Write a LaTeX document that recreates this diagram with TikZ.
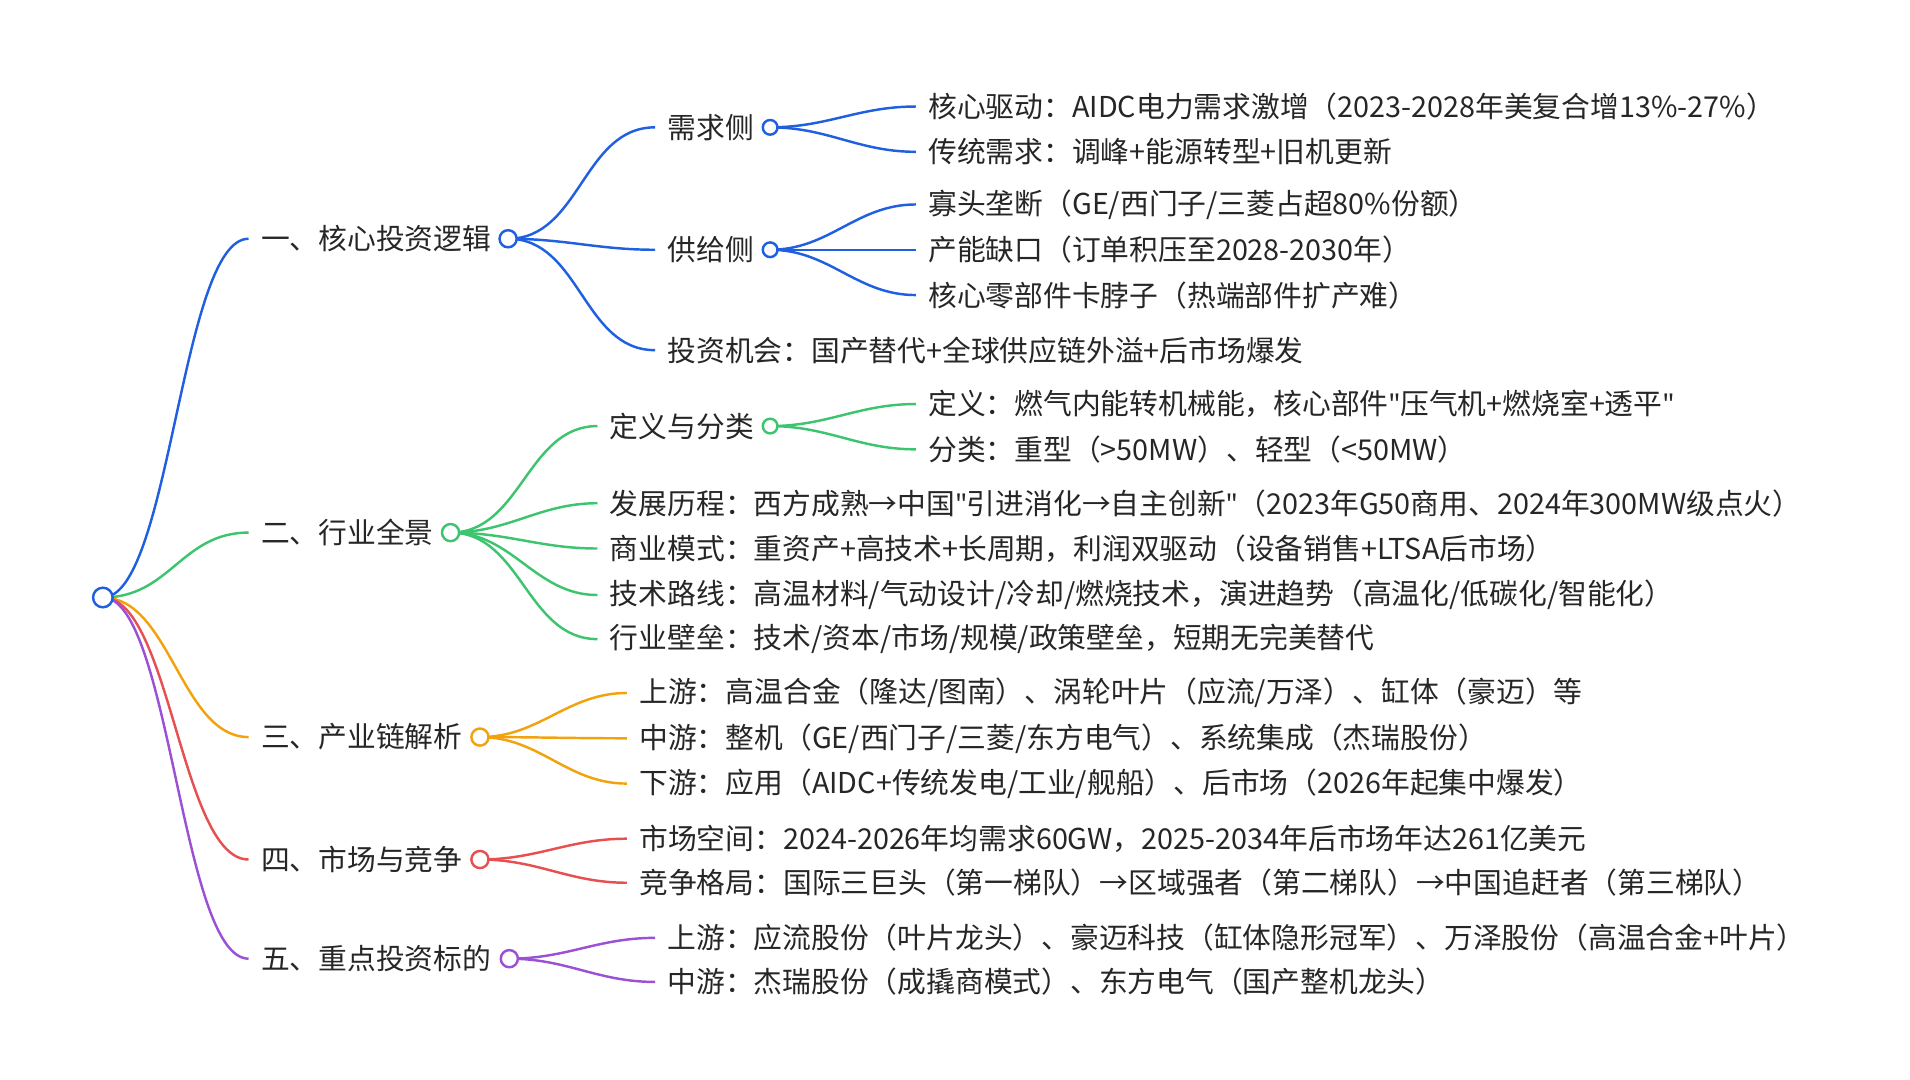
\documentclass[tikz,border=0pt]{standalone}
\usepackage{fontspec}
\setmainfont{Noto Sans CJK SC}
\newfontfamily\qf{Noto Sans}
\newcommand{\qq}{{\qf\char"0022}}
\begin{document}
\begin{tikzpicture}[x=1pt,y=-1pt,
  lbl/.style={anchor=west,inner xsep=10pt,inner ysep=0pt,font=\fontsize{23.5}{27}\selectfont,text=black!85},
  dot/.style={circle,draw=#1,fill=white,line width=2pt,inner sep=0pt,minimum size=12pt},
  ln/.style={draw=#1,line width=2pt},
  cA/.style={ln=bA},cB/.style={ln=bB},cC/.style={ln=bC},cD/.style={ln=bD},cE/.style={ln=bE},
  rt/.style={to path={.. controls +(55,0) and +(-55,0) .. (\tikztotarget)}}]
\definecolor{bA}{HTML}{1F5FE0}
\definecolor{bB}{HTML}{3CC56E}
\definecolor{bC}{HTML}{F2A20C}
\definecolor{bD}{HTML}{E84F50}
\definecolor{bE}{HTML}{9B51D6}
\useasboundingbox (0,0) rectangle (1560,882);
% level 1 labels
\node[lbl] (t1) at (203,195) {一、核心投资逻辑};
\node[lbl] (t2) at (203,435) {二、行业全景};
\node[lbl] (t3) at (203,602) {三、产业链解析};
\node[lbl] (t4) at (203,702) {四、市场与竞争};
\node[lbl] (t5) at (203,783) {五、重点投资标的};
% level 2
\node[lbl] (t11) at (535,104) {需求侧};
\node[lbl] (t12) at (535,204) {供给侧};
\node[lbl] (t13) at (535,286) {投资机会：国产替代+全球供应链外溢+后市场爆发};
\node[lbl] (t111) at (748,87) {核心驱动：AIDC电力需求激增（2023-2028年美复合增13\%-27\%）};
\node[lbl] (t112) at (748,124) {传统需求：调峰+能源转型+旧机更新};
\node[lbl] (t121) at (748,167) {寡头垄断（GE/西门子/三菱占超80\%份额）};
\node[lbl] (t122) at (748,204) {产能缺口（订单积压至2028-2030年）};
\node[lbl] (t123) at (748,241) {核心零部件卡脖子（热端部件扩产难）};
\node[lbl] (t21) at (488,348) {定义与分类};
\node[lbl] (t211) at (748,330) {定义：燃气内能转机械能，核心部件\qq 压气机+燃烧室+透平\qq};
\node[lbl] (t212) at (748,367) {分类：重型（>50MW）、轻型（<50MW）};
\node[lbl] (t22) at (488,411) {发展历程：西方成熟→中国\qq 引进消化→自主创新\qq（2023年G50商用、2024年300MW级点火）};
\node[lbl] (t23) at (488,448) {商业模式：重资产+高技术+长周期，利润双驱动（设备销售+LTSA后市场）};
\node[lbl] (t24) at (488,486) {技术路线：高温材料/气动设计/冷却/燃烧技术，演进趋势（高温化/低碳化/智能化）};
\node[lbl] (t25) at (488,522) {行业壁垒：技术/资本/市场/规模/政策壁垒，短期无完美替代};
\node[lbl] (t31) at (512,566) {上游：高温合金（隆达/图南）、涡轮叶片（应流/万泽）、缸体（豪迈）等};
\node[lbl] (t32) at (512,603) {中游：整机（GE/西门子/三菱/东方电气）、系统集成（杰瑞股份）};
\node[lbl] (t33) at (512,640) {下游：应用（AIDC+传统发电/工业/舰船）、后市场（2026年起集中爆发）};
\node[lbl] (t41) at (512,685) {市场空间：2024-2026年均需求60GW，2025-2034年后市场年达261亿美元};
\node[lbl] (t42) at (512,721) {竞争格局：国际三巨头（第一梯队）→区域强者（第二梯队）→中国追赶者（第三梯队）};
\node[lbl] (t51) at (535,766) {上游：应流股份（叶片龙头）、豪迈科技（缸体隐形冠军）、万泽股份（高温合金+叶片）};
\node[lbl] (t52) at (535,802) {中游：杰瑞股份（成撬商模式）、东方电气（国产整机龙头）};
% connectors
\draw[cA] (84,488) to[rt] (t1.west);
\draw[cB] (84,488) to[rt] (t2.west);
\draw[cC] (84,488) to[rt] (t3.west);
\draw[cD] (84,488) to[rt] (t4.west);
\draw[cE] (84,488) to[rt] (t5.west);
\foreach \t in {t11,t12,t13} \draw[cA] (415,195) to[out=0,in=180] (\t.west);
\foreach \t in {t111,t112} \draw[cA] (629,104) to[out=0,in=180] (\t.west);
\foreach \t in {t121,t122,t123} \draw[cA] (629,204) to[out=0,in=180] (\t.west);
\foreach \t in {t21,t22,t23,t24,t25} \draw[cB] (368,435) to[out=0,in=180] (\t.west);
\foreach \t in {t211,t212} \draw[cB] (629,348) to[out=0,in=180] (\t.west);
\foreach \t in {t31,t32,t33} \draw[cC] (392,602) to[out=0,in=180] (\t.west);
\foreach \t in {t41,t42} \draw[cD] (392,702) to[out=0,in=180] (\t.west);
\foreach \t in {t51,t52} \draw[cE] (416,783) to[out=0,in=180] (\t.west);
% dots
\node[dot=bA,minimum size=16pt] (r) at (84,488) {};
\node[dot=bA,minimum size=14pt] (c1) at (415,195) {};
\node[dot=bB,minimum size=14pt] (c2) at (368,435) {};
\node[dot=bC,minimum size=14pt] (c3) at (392,602) {};
\node[dot=bD,minimum size=14pt] (c4) at (392,702) {};
\node[dot=bE,minimum size=14pt] (c5) at (416,783) {};
\node[dot=bA] (c11) at (629,104) {};
\node[dot=bA] (c12) at (629,204) {};
\node[dot=bB] (c21) at (629,348) {};
\end{tikzpicture}
\end{document}
